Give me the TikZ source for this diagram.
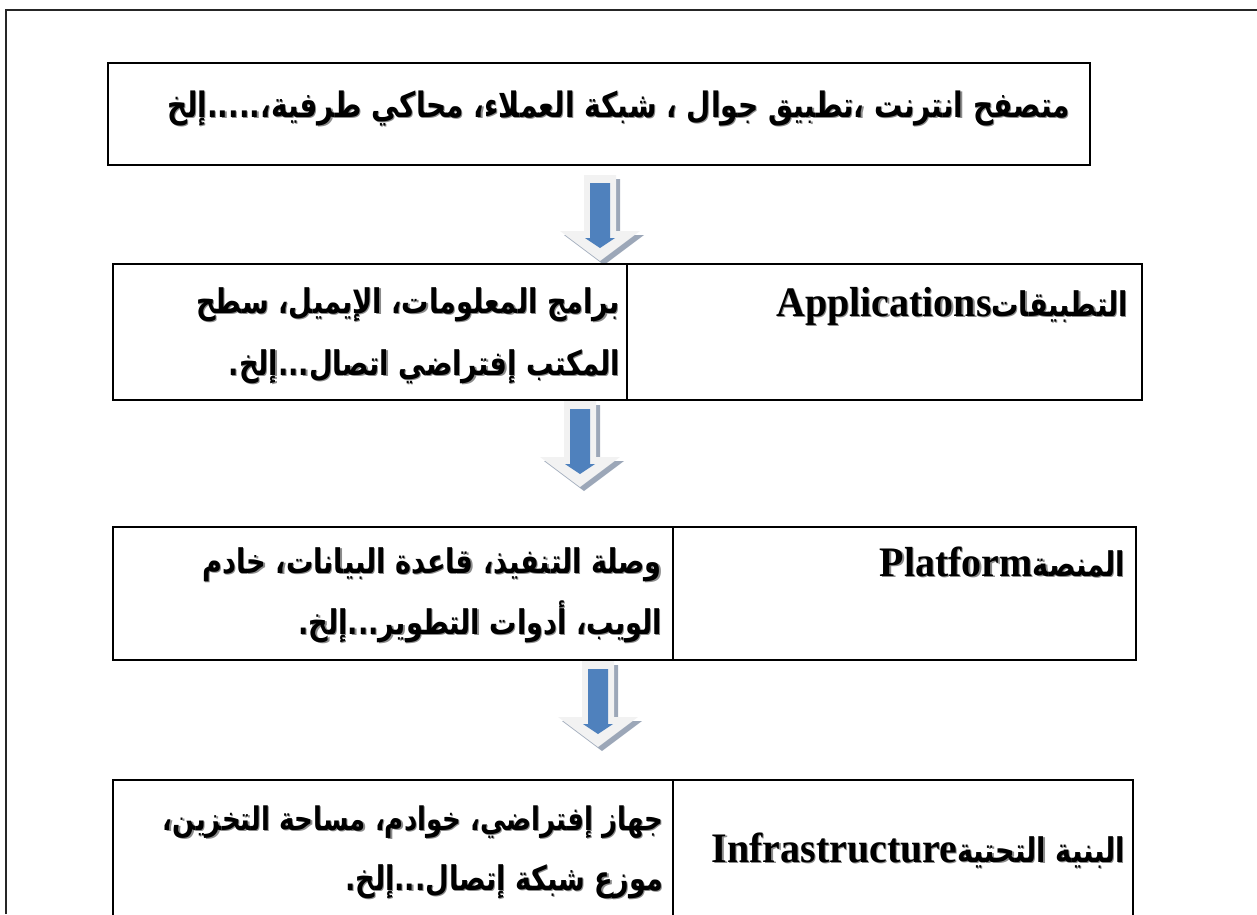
\documentclass[tikz,border=0pt]{standalone}
\usepackage{fontspec}
\TeXXeTstate=1
\newfontfamily\arabicfont[Script=Arabic,FakeStretch=0.8]{DejaVu Sans}
\newfontfamily\latinfont[FakeStretch=0.95]{Liberation Serif}
\usetikzlibrary{calc}
\definecolor{arrowlight}{HTML}{F2F2F2}
\definecolor{arrowshadow}{HTML}{9CA7B8}
\definecolor{arrowblue}{HTML}{4F81BD}
\definecolor{txtshadow}{HTML}{8C8C8C}
\newcommand\arb{\arabicfont\bfseries\fontsize{34}{40}\selectfont}
\newcommand\arbbig{\arabicfont\bfseries\fontsize{35}{41}\selectfont}
\newcommand\arbsmall{\arabicfont\bfseries\fontsize{32.5}{38}\selectfont}
\newcommand\lat{\latinfont\bfseries\fontsize{42}{48}\selectfont}
\newcommand\shnode[4]{%
  \node[txt,anchor=#2,text=txtshadow] at ($(#1)+(1.2,1.5)$) {#4};
  \node[txt,anchor=#2] (#3) at (#1) {#4};}
\tikzset{
  txt/.style={inner sep=0pt,outer sep=0pt},
  boxline/.style={draw=black,line width=2.2pt},
  divline/.style={draw=black,line width=1.3pt},
  blockarrow/.pic={
    \fill[arrowshadow] (-12,4) -- (20,4) -- (20,60) -- (44,60) -- (4,90) -- (-36,60) -- (-12,60) -- cycle;
    \fill[arrowlight] (-16,0) -- (16,0) -- (16,56) -- (40,56) -- (0,86) -- (-40,56) -- (-16,56) -- cycle;
    \fill[arrowblue] (-10,8) -- (10,8) -- (10,63) -- (15,63) -- (0,73) -- (-15,63) -- (-10,63) -- cycle;
  }
}
\begin{document}
\begin{tikzpicture}[x=1pt,y=-1pt]
\useasboundingbox (0,0) rectangle (1257,914);
% outer frame
\draw[line width=2.8pt,draw=black!85] (6,914) -- (6,10) -- (1257,10);
% box 1
\draw[boxline] (108,63) rectangle (1090,165);
\shnode{1070,117}{base east}{t1}{\arbbig\beginR متصفح انترنت ،تطبيق جوال ، شبكة العملاء، محاكي طرفية،.....إلخ\endR}
% arrow 1
\pic at (600,175) {blockarrow};
% box 2
\draw[boxline] (113,264) rectangle (1142,400);
\draw[divline] (627,264) -- (627,400);
\shnode{1128,316}{base east}{a1}{\beginR{\arb التطبيقات}\beginL{\lat Applications}\endL\endR}
\shnode{620,313}{base east}{a2}{\arb\beginR برامج المعلومات، الإيميل، سطح\endR}
\shnode{620,375}{base east}{a3}{\arb\beginR المكتب إفتراضي اتصال...إلخ.\endR}
% arrow 2
\pic at (580,401) {blockarrow};
% box 3
\draw[boxline] (113,527) rectangle (1136,660);
\draw[divline] (673,527) -- (673,660);
\shnode{1125,576}{base east}{p1}{\beginR{\arb المنصة}\beginL{\lat Platform}\endL\endR}
\shnode{662,573}{base east}{p2}{\arb\beginR وصلة التنفيذ، قاعدة البيانات، خادم\endR}
\shnode{662,634}{base east}{p3}{\arb\beginR الويب، أدوات التطوير...إلخ.\endR}
% arrow 3
\pic at (598,661) {blockarrow};
% box 4
\draw[boxline] (113,930) -- (113,780) -- (1133,780) -- (1133,930);
\draw[divline] (673,780) -- (673,930);
\shnode{1125,862}{base east}{i1}{\beginR{\arb البنية التحتية}\beginL{\lat Infrastructure}\endL\endR}
\shnode{663,830}{base east}{i2}{\arbsmall\beginR جهاز إفتراضي، خوادم، مساحة التخزين،\endR}
\shnode{663,890}{base east}{i3}{\arb\beginR موزع شبكة إتصال...إلخ.\endR}
\end{tikzpicture}
\end{document}
